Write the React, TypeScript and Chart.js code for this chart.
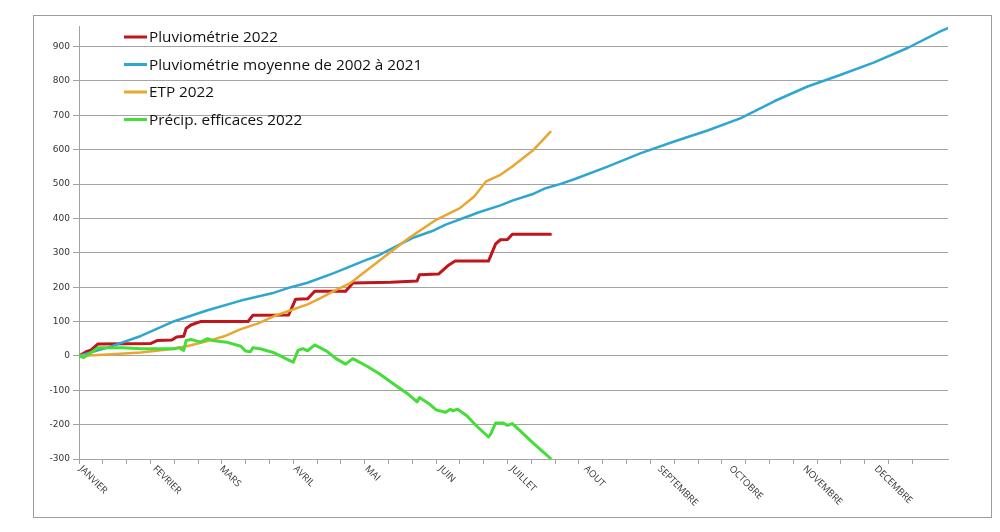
import React, { useEffect, useRef } from "react";
import { Chart, registerables } from "chart.js";

Chart.register(...registerables);

// ---- Data (day of year -> cumulative mm) ----
const monthLabels = [
  "JANVIER", "FEVRIER", "MARS", "AVRIL", "MAI", "JUIN",
  "JUILLET", "AOUT", "SEPTEMBRE", "OCTOBRE", "NOVEMBRE", "DECEMBRE",
];
const monthStartDays = [0, 31, 59, 90, 120, 151, 181, 212, 243, 273, 304, 334];

const seriesLabels = [
  "Pluviométrie 2022",
  "Pluviométrie moyenne de 2002 à 2021",
  "ETP 2022",
  "Précip. efficaces 2022",
];

const pluvioDays = [0, 3, 5, 8, 30, 33, 39, 41, 44, 45, 47, 51, 71, 73, 88, 91, 96, 99, 112, 115, 131, 142, 143, 151, 155, 158, 172, 175, 177, 180, 182, 198];
const pluvioValues = [0, 12, 17, 35, 36, 45, 46, 55, 57, 80, 90, 100, 100, 118, 119, 165, 166, 188, 188, 212, 214, 218, 236, 238, 263, 276, 276, 326, 338, 339, 354, 354];

const moyenneDays = [0, 12, 26, 40, 54, 68, 82, 89, 96, 107, 121, 126, 135, 140, 149, 154, 163, 168, 177, 182, 191, 196, 202, 208, 222, 236, 250, 264, 278, 292, 306, 320, 334, 348, 362, 365];
const moyenneValues = [0, 24, 58, 101, 133, 161, 184, 200, 213, 241, 280, 293, 325, 343, 365, 382, 405, 418, 438, 452, 472, 488, 500, 514, 551, 590, 624, 656, 692, 741, 784, 818, 854, 896, 945, 954];

const etpDays = [0, 12, 26, 40, 47, 54, 61, 68, 75, 82, 89, 96, 101, 108, 114, 128, 139, 150, 160, 166, 171, 177, 182, 191, 198];
const etpValues = [0, 4, 10, 21, 31, 43, 57, 78, 94, 116, 133, 150, 167, 192, 212, 287, 345, 396, 430, 464, 508, 527, 551, 600, 652];

const effDays = [0, 2, 8, 18, 26, 40, 42, 44, 45, 47, 51, 54, 56, 62, 68, 70, 72, 73, 76, 82, 89, 90, 92, 94, 96, 99, 104, 108, 112, 115, 121, 126, 132, 138, 142, 143, 147, 150, 154, 156, 157, 159, 163, 167, 172, 173, 175, 178, 180, 182, 185, 191, 198];
const effValues = [0, -5, 24, 24, 21, 21, 24, 16, 45, 48, 40, 50, 45, 40, 28, 14, 12, 24, 21, 9, -15, -18, 16, 21, 15, 32, 14, -8, -24, -8, -30, -51, -81, -110, -134, -121, -139, -157, -164, -155, -160, -155, -175, -204, -236, -226, -195, -195, -202, -197, -216, -255, -298];

const seriesColors = ["#C0151B", "#2EA6D0", "#E9A632", "#45DD38"];
const seriesWidths = [3, 2.5, 2.5, 3];

const Y_MIN = -300;
const Y_MAX = 960;
const Y_LAST_TICK = 900;
const Y_STEP = 100;
const X_MAX = 365;
const X_STEP = 10;

const toPoints = (days: number[], vals: number[]) =>
  days.map((d, i) => ({ x: d, y: vals[i] }));

export default function App() {
  const ref = useRef<HTMLCanvasElement>(null);

  useEffect(() => {
    const canvas = ref.current!;
    const gridColor = "#a3a3a3";

    const decorPlugin = {
      id: "decor",
      beforeDraw(chart: any) {
        const c = chart.ctx;
        c.save();
        c.fillStyle = "#ffffff";
        c.fillRect(0, 0, chart.width, chart.height);
        c.strokeStyle = "#9c9c9c";
        c.lineWidth = 1;
        c.strokeRect(33.5, 15.5, 958, 502);
        c.restore();
      },
      afterDraw(chart: any) {
        const c = chart.ctx;
        const xs = chart.scales.x;
        const area = chart.chartArea;
        // month labels
        c.save();
        c.fillStyle = "#333333";
        c.font = '9.5px "Open Sans"';
        c.textAlign = "left";
        c.textBaseline = "top";
        monthLabels.forEach((m, i) => {
          const px = xs.getPixelForValue(monthStartDays[i]);
          c.save();
          c.translate(px + 5, area.bottom + 5);
          c.rotate(Math.PI / 4);
          c.fillText(m, 0, 0);
          c.restore();
        });
        c.restore();
        // legend
        c.save();
        c.font = '15.3px "Open Sans"';
        c.textBaseline = "middle";
        c.textAlign = "left";
        const rows = [37, 64.5, 92, 119.5];
        seriesLabels.forEach((lab, i) => {
          c.strokeStyle = seriesColors[i];
          c.lineWidth = 3;
          c.beginPath();
          c.moveTo(124, rows[i]);
          c.lineTo(147, rows[i]);
          c.stroke();
          c.fillStyle = "#111111";
          c.fillText(lab, 149, rows[i] + 1);
        });
        c.restore();
      },
    };

    const mk = (i: number, days: number[], vals: number[], order: number) => ({
      label: seriesLabels[i],
      data: toPoints(days, vals),
      borderColor: seriesColors[i],
      backgroundColor: seriesColors[i],
      borderWidth: seriesWidths[i],
      pointRadius: 0,
      tension: 0,
      fill: false,
      order,
      borderJoinStyle: "round" as const,
      borderCapStyle: "round" as const,
    });

    const chart = new Chart(canvas, {
      type: "line",
      data: {
        datasets: [
          mk(0, pluvioDays, pluvioValues, 3),
          mk(1, moyenneDays, moyenneValues, 2),
          mk(2, etpDays, etpValues, 1),
          mk(3, effDays, effValues, 0),
        ],
      },
      options: {
        responsive: false,
        animation: false,
        layout: { padding: { left: 0, top: 26, right: 52, bottom: 0 } },
        plugins: {
          legend: { display: false },
          tooltip: { enabled: false },
          title: { display: false },
        },
        scales: {
          x: {
            type: "linear",
            min: 0,
            max: X_MAX,
            ticks: { display: false, stepSize: X_STEP },
            afterBuildTicks: (s: any) => {
              s.ticks = s.ticks.filter((t: any) => t.value % X_STEP === 0 && t.value <= 360);
            },
            afterFit: (s: any) => {
              s.height = 73;
            },
            grid: {
              drawOnChartArea: false,
              drawTicks: true,
              tickLength: 5,
              color: gridColor,
            },
            border: { color: gridColor, width: 1 },
          },
          y: {
            type: "linear",
            min: Y_MIN,
            max: Y_MAX,
            ticks: {
              stepSize: Y_STEP,
              font: { family: "DejaVu Sans", size: 9 },
              color: "#333333",
              padding: 3,
            },
            afterBuildTicks: (s: any) => {
              s.ticks = s.ticks.filter((t: any) => t.value <= Y_LAST_TICK);
            },
            afterFit: (s: any) => {
              s.width = 79;
            },
            grid: { color: gridColor, tickLength: 6, lineWidth: 1 },
            border: { color: gridColor, width: 1 },
          },
        },
      },
      plugins: [decorPlugin],
    });

    return () => chart.destroy();
  }, []);

  return (
    <div style={{ position: "absolute", left: 0, top: 0, width: 1000, height: 532, background: "#fff" }}>
      <canvas ref={ref} width={1000} height={532} style={{ display: "block" }} />
    </div>
  );
}
